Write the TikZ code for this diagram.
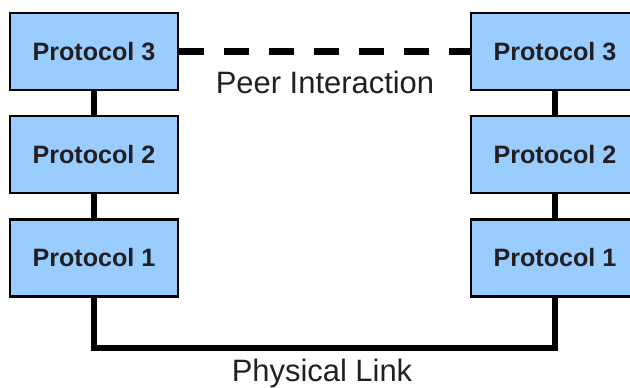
\documentclass[tikz,border=0pt]{standalone}
\usepackage{fontspec}
\setmainfont{Liberation Sans}
\definecolor{boxblue}{HTML}{99CCFF}
\definecolor{ink}{HTML}{231F20}
\begin{document}
\begin{tikzpicture}[x=0.02cm,y=-0.02cm,
    layer/.style={draw=black,line width=1.6pt,fill=boxblue,text=ink,
      minimum width=3.36cm,minimum height=1.54cm,inner sep=0pt,
      font=\fontsize{14.3}{16}\selectfont\bfseries},
    link/.style={line width=3.6pt},
    lbl/.style={text=ink,font=\fontsize{17.6}{19}\selectfont,inner sep=0pt}]
      \useasboundingbox (0,0) rectangle (630,388);
      % left stack
      \node[layer] (l3) at (94,51.5) {Protocol 3};
      \node[layer] (l2) at (94,154.5) {Protocol 2};
      \node[layer] (l1) at (94,258) {Protocol 1};
      % right stack
      \node[layer] (r3) at (555,51.5) {Protocol 3};
      \node[layer] (r2) at (555,154.5) {Protocol 2};
      \node[layer] (r1) at (555,258) {Protocol 1};
      \begin{scope}[link]
        \draw (l3) to (l2);
        \draw (l2) to (l1);
        \draw (r3) to (r2);
        \draw (r2) to (r1);
        \draw[dash pattern=on 0.5cm off 0.4cm] (l3.east) to (r3.west);
        \draw (l1.south) -- ++(0,50) coordinate (bl) -| (r1.south);
      \end{scope}
      \node[lbl] (peer) at (325,82) {Peer Interaction};
      \node[lbl] (phys) at (322,373.5) {Physical Link};
    \end{tikzpicture}
\end{document}
